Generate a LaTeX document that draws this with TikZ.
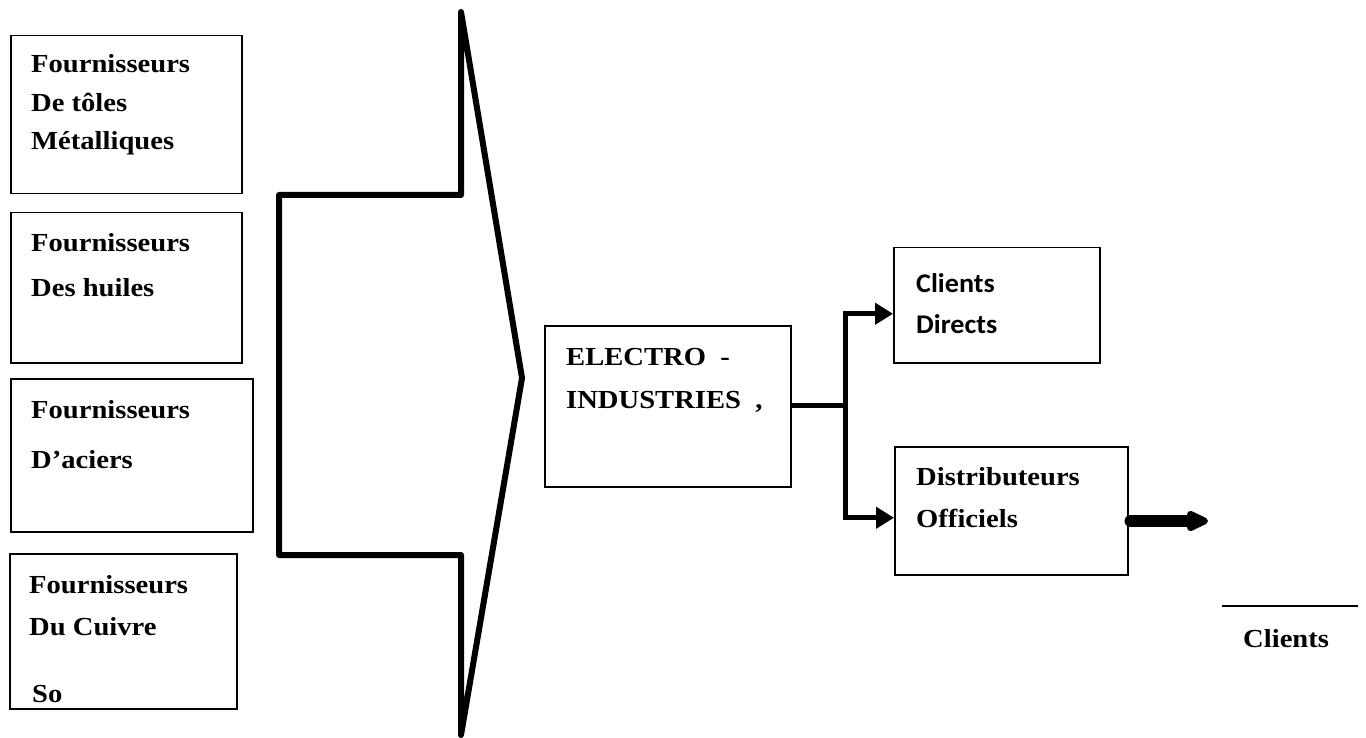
\documentclass[tikz,border=0pt]{standalone}
\usepackage{fontspec}
\setmainfont[FakeStretch=1.1]{Liberation Serif}
\newfontfamily\calib[FakeStretch=1.04]{Carlito}
\usetikzlibrary{arrows.meta}
\begin{document}
\begin{tikzpicture}[x=1pt,y=-1pt,
  box/.style={draw,line width=1.5pt,rectangle,inner sep=0pt,anchor=north west},
  lbl/.style={anchor=base west,inner sep=0pt,font=\fontsize{26}{30}\selectfont\bfseries},
  clbl/.style={anchor=base west,inner sep=0pt,font=\fontsize{27}{30}\selectfont\calib\bfseries},
  conn/.style={line width=5pt},
  arr/.style={line width=5pt,-{Triangle[length=18pt,width=21pt]}},
  bigarr/.style={line width=12pt,line cap=round,-{Triangle[length=26pt,width=22pt,round]}},
  funnel/.style={line width=6pt,line join=round,line cap=round}]
\useasboundingbox (0,0) rectangle (1366,738);
% supplier boxes
\node[box,minimum width=231pt,minimum height=158pt] (f1) at (10,35) {};
\node[box,minimum width=231pt,minimum height=150pt] (f2) at (10,212) {};
\node[box,minimum width=242pt,minimum height=153pt] (f3) at (10,378) {};
\node[box,minimum width=227pt,minimum height=155pt] (f4) at (9,553) {};
\node[lbl] (f1a) at (31,73) {Fournisseurs};
\node[lbl] (f1b) at (31,112) {De tôles};
\node[lbl] (f1c) at (31,150) {Métalliques};
\node[lbl] (f2a) at (31,252) {Fournisseurs};
\node[lbl] (f2b) at (31,296) {Des huiles};
\node[lbl] (f3a) at (31,418) {Fournisseurs};
\node[lbl] (f3b) at (31,468) {D’aciers};
\node[lbl] (f4a) at (29,593) {Fournisseurs};
\node[lbl] (f4b) at (29,635) {Du Cuivre};
\node[lbl] (f4c) at (32,702) {So};
% funnel shape
\coordinate (tl) at (279,195);
\coordinate (tr) at (461,195);
\coordinate (top) at (461,12);
\coordinate (tip) at (522,378);
\coordinate (bot) at (461,735);
\coordinate (br) at (461,555);
\coordinate (bl) at (279,555);
\draw[funnel] (tl) -- (tr) -- (top) -- (tip) -- (bot) -- (br) -- (bl) -- cycle;
% central box
\node[box,minimum width=246pt,minimum height=161pt] (el) at (544,325) {};
\node[lbl] (ela) at (566,365) {ELECTRO\ \ -};
\node[lbl] (elb) at (566,408) {INDUSTRIES\ \ ,};
% customer boxes
\node[box,minimum width=206pt,minimum height=115pt] (cd) at (893,247) {};
\node[clbl] (cda) at (916,293) {Clients};
\node[clbl] (cdb) at (916,333) {Directs};
\node[box,minimum width=233pt,minimum height=128pt] (di) at (894,446) {};
\node[lbl] (dia) at (916,485) {Distributeurs};
\node[lbl] (dib) at (916,527) {Officiels};
% connectors
\coordinate (split) at (845,405);
\draw[conn] (el.east |- split) -- (split);
\draw[arr] (split) |- ([yshift=-8.5pt]cd.west);
\draw[arr] (split) |- ([yshift=-7pt]di.west);
\coordinate (out) at (1208,521);
\draw[bigarr] ([xshift=2pt]di.east |- out) -- (out);
% clients on the right
\coordinate (la) at (1222,606);
\coordinate (lb) at (1358,606);
\draw[line width=1.5pt] (la) -- (lb);
\node[lbl] (cl) at (1243,647) {Clients};
\end{tikzpicture}
\end{document}
